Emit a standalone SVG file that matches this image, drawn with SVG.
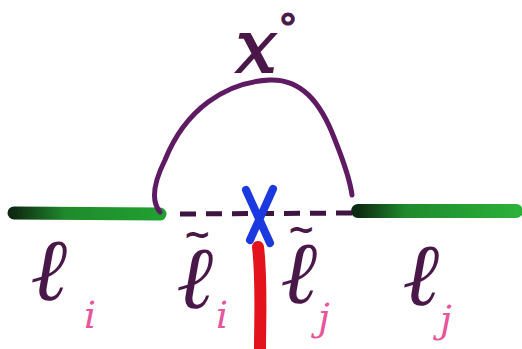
<svg xmlns="http://www.w3.org/2000/svg" width="522" height="349" viewBox="0 0 522 349">
<style>
.lbl{font-family:"DejaVu Serif",serif;font-style:italic;font-weight:bold;fill:#4a1848}
.til{font-family:"DejaVu Sans",sans-serif;font-weight:bold;fill:#4a1848}
.xo{font-family:"DejaVu Serif",serif;font-style:italic;fill:#4a1848;stroke:#4a1848;stroke-width:2}
.sub{font-family:"DejaVu Serif",serif;font-style:italic;font-weight:normal;fill:#e8559a}
</style>
<defs>
<linearGradient id="gl" gradientUnits="userSpaceOnUse" x1="14" x2="160" y1="0" y2="0">
<stop offset="0" stop-color="#0e2a12"/><stop offset="0.35" stop-color="#1f8a2c"/><stop offset="1" stop-color="#21a030"/>
</linearGradient>
<linearGradient id="gr" gradientUnits="userSpaceOnUse" x1="358" x2="516" y1="0" y2="0">
<stop offset="0" stop-color="#0e2a12"/><stop offset="0.3" stop-color="#1f8a2c"/><stop offset="1" stop-color="#2bb03a"/>
</linearGradient>
</defs>
<rect width="522" height="349" fill="#ffffff"/>
<g id="lines">
<line x1="14" y1="213" x2="160" y2="214" stroke="url(#gl)" stroke-width="13" stroke-linecap="round"/>
<line x1="358" y1="211" x2="516" y2="211" stroke="url(#gr)" stroke-width="14" stroke-linecap="round"/>
<path d="M160 212 C150 200,155 180,165 160 C185 110,225 82,270 80 C300 79,320 100,335 140 C345 165,350 180,352 195" fill="none" stroke="#5e1a62" stroke-width="5" stroke-linecap="round"/>
<line x1="180" y1="214" x2="356" y2="213" stroke="#3e1440" stroke-width="5" stroke-dasharray="16 10"/>
<path d="M258 247 C262 280,260 320,260 349" fill="none" stroke="#e3121c" stroke-width="12" stroke-linecap="round"/>
<path d="M246 190 L270 243 M273 189 L250 240" fill="none" stroke="#1a3ae0" stroke-width="8" stroke-linecap="round"/>
</g>
<g id="x0">
<text x="236" y="72" class="xo" font-size="72">x<tspan x="278" y="42" font-size="40" stroke-width="1">°</tspan></text>
</g>
<g id="li">
<text x="32" y="300" class="lbl" font-size="88">ℓ<tspan x="84" y="328" class="sub" font-size="38">i</tspan></text>
</g>
<g id="lti">
<text x="183" y="246" class="til" font-size="34">~</text>
<text x="178" y="308" class="lbl" font-size="88">ℓ<tspan x="216" y="328" class="sub" font-size="38">i</tspan></text>
</g>
<g id="ltj">
<text x="287" y="241" class="til" font-size="34">~</text>
<text x="282" y="303" class="lbl" font-size="88">ℓ<tspan x="318" y="330" class="sub" font-size="38">j</tspan></text>
</g>
<g id="lj">
<text x="404" y="305" class="lbl" font-size="88">ℓ<tspan x="440" y="332" class="sub" font-size="38">j</tspan></text>
</g>
</svg>
